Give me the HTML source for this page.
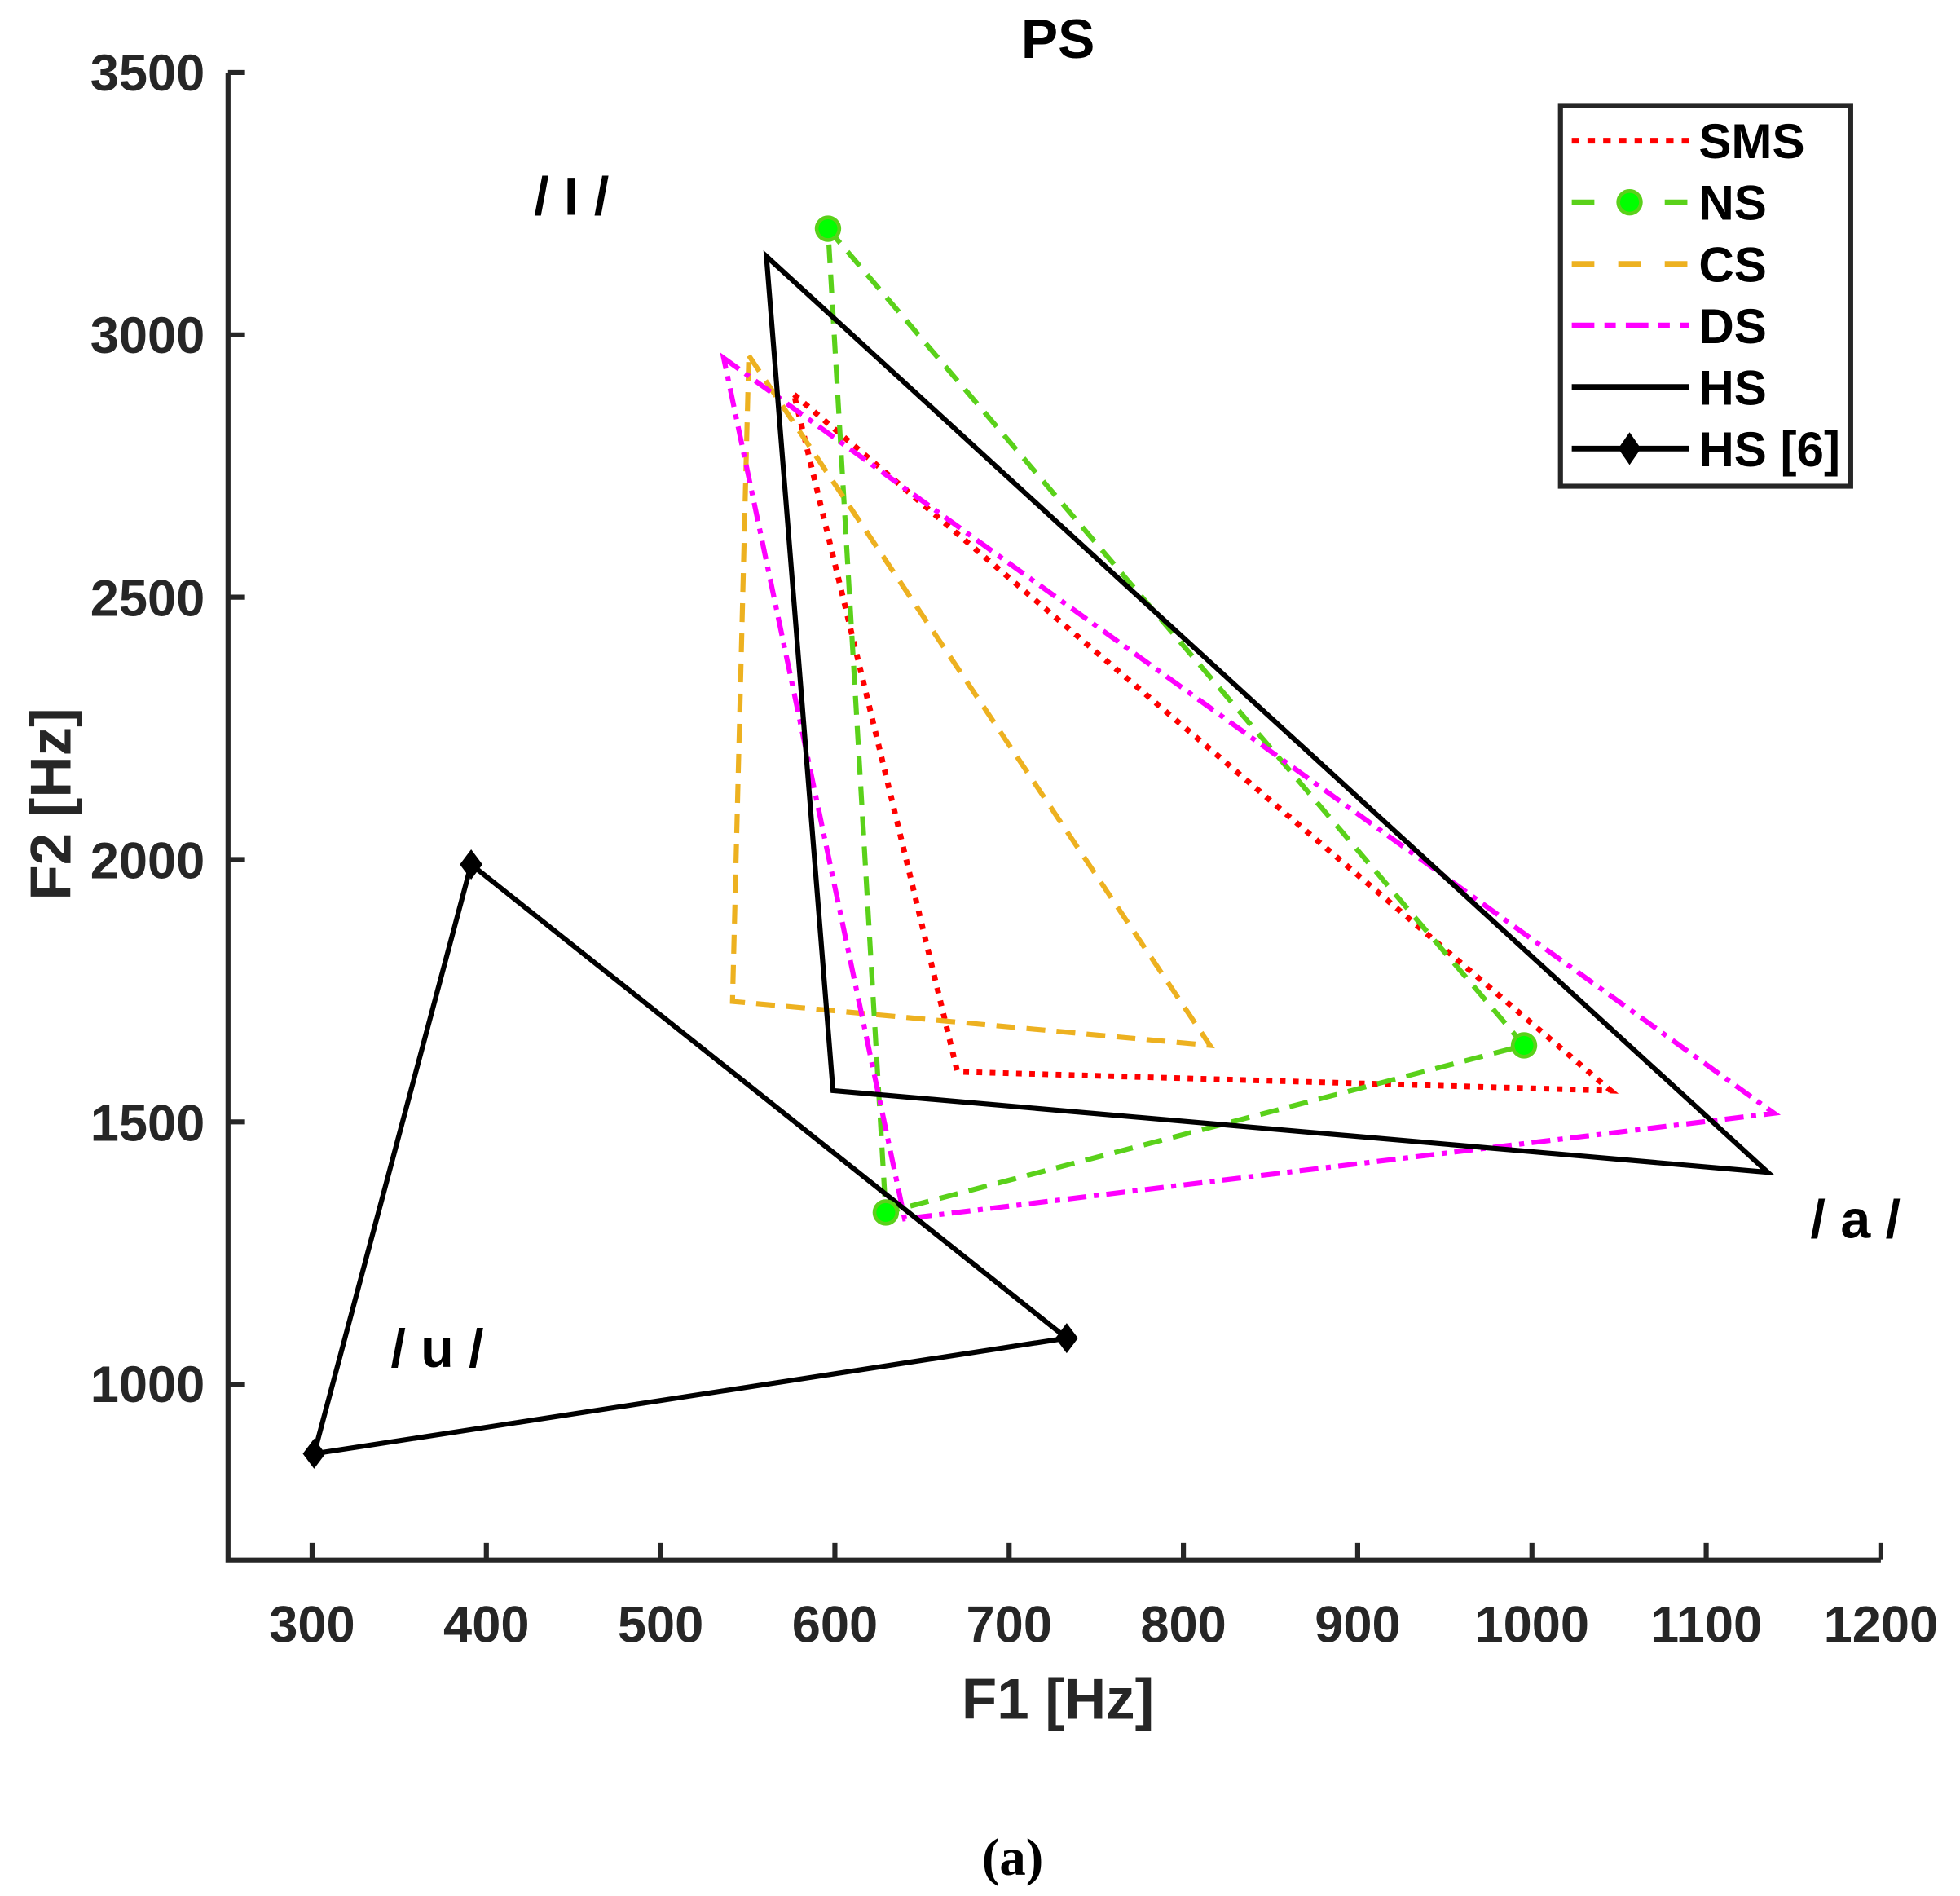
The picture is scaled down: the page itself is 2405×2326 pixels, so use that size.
<!DOCTYPE html>
<html><head><meta charset="utf-8"><style>html,body{margin:0;padding:0;background:#fff}svg{display:block}</style></head>
<body>
<svg width="2405" height="2326" viewBox="0 0 1560 1509" preserveAspectRatio="none" xmlns="http://www.w3.org/2000/svg" font-family="Liberation Sans, Arial, sans-serif" font-weight="bold">
<rect width="1560" height="1509" fill="#fff"/>
<g stroke="#262626" stroke-width="4" fill="none">
<polyline points="181.5,57.7 181.5,1241.5 1497,1241.5"/>
<line x1="181.5" y1="57.7" x2="195" y2="57.7"/>
<line x1="181.5" y1="266.5" x2="195" y2="266.5"/>
<line x1="181.5" y1="475.3" x2="195" y2="475.3"/>
<line x1="181.5" y1="684.1" x2="195" y2="684.1"/>
<line x1="181.5" y1="892.9" x2="195" y2="892.9"/>
<line x1="181.5" y1="1101.7" x2="195" y2="1101.7"/>
<line x1="248.4" y1="1241.5" x2="248.4" y2="1228"/>
<line x1="387.1" y1="1241.5" x2="387.1" y2="1228"/>
<line x1="525.8" y1="1241.5" x2="525.8" y2="1228"/>
<line x1="664.5" y1="1241.5" x2="664.5" y2="1228"/>
<line x1="803.2" y1="1241.5" x2="803.2" y2="1228"/>
<line x1="941.9" y1="1241.5" x2="941.9" y2="1228"/>
<line x1="1080.6" y1="1241.5" x2="1080.6" y2="1228"/>
<line x1="1219.3" y1="1241.5" x2="1219.3" y2="1228"/>
<line x1="1358" y1="1241.5" x2="1358" y2="1228"/>
<line x1="1497" y1="1241.5" x2="1497" y2="1228"/>
</g>
<g fill="#262626" font-size="41" text-anchor="end">
<text x="163" y="72">3500</text>
<text x="163" y="281">3000</text>
<text x="163" y="490">2500</text>
<text x="163" y="699">2000</text>
<text x="163" y="908">1500</text>
<text x="163" y="1116">1000</text>
</g>
<g fill="#262626" font-size="41" text-anchor="middle">
<text x="248.4" y="1307">300</text>
<text x="387.1" y="1307">400</text>
<text x="525.8" y="1307">500</text>
<text x="664.5" y="1307">600</text>
<text x="803.2" y="1307">700</text>
<text x="941.9" y="1307">800</text>
<text x="1080.6" y="1307">900</text>
<text x="1219.3" y="1307">1000</text>
<text x="1358" y="1307">1100</text>
<text x="1497" y="1307">1200</text>
<text x="842" y="1368" font-size="46">F1 [Hz]</text>
<text transform="translate(56,640) rotate(-90)" font-size="46">F2 [Hz]</text>
</g>
<text x="842" y="46" font-size="44" text-anchor="middle" fill="#000">PS</text>
<g fill="none" stroke-width="4.5" stroke-linejoin="miter">
<polygon points="632,314 1282,868 762,853" stroke="#ff0000" stroke-dasharray="4.5,6"/>
<polygon points="659,182 1213,832 705,965" stroke="#5ad11a" stroke-dasharray="15,9" stroke-width="4"/>
<polygon points="596,283 963,832 583,797" stroke="#edb120" stroke-dasharray="15,9" stroke-width="4"/>
<polygon points="576,285 1412,886 720,970" stroke="#ff00ff" stroke-dasharray="15,6,4,6" stroke-width="4"/>
<polygon points="610,204 1407,933 663,868" stroke="#000" stroke-width="4"/>
<polygon points="375,688 849,1065 250,1157" stroke="#000" stroke-width="4"/>
</g>
<g fill="#00ff00" stroke="#5ad11a" stroke-width="3">
<circle cx="659" cy="182" r="9"/><circle cx="1213" cy="832" r="9"/><circle cx="705" cy="965" r="9"/>
</g>
<g fill="#000">
<polygon points="375,676 384,688 375,700 366,688"/>
<polygon points="849,1053 858,1065 849,1077 840,1065"/>
<polygon points="250,1145 259,1157 250,1169 241,1157"/>
</g>
<g font-size="43" fill="#000">
<text x="425" y="171">/ I /</text>
<text x="1441" y="985">/ a /</text>
<text x="311" y="1088">/ u /</text>
</g>
<rect x="1242" y="84" width="231" height="303" fill="#fff" stroke="#262626" stroke-width="4"/>
<g stroke-width="4.5" fill="none">
<line x1="1251" y1="112" x2="1344" y2="112" stroke="#ff0000" stroke-dasharray="6,6.5"/>
<line x1="1251" y1="161" x2="1344" y2="161" stroke="#5ad11a" stroke-dasharray="18,19"/>
<line x1="1251" y1="210" x2="1344" y2="210" stroke="#edb120" stroke-dasharray="18,19"/>
<line x1="1251" y1="259" x2="1344" y2="259" stroke="#ff00ff" stroke-dasharray="18,8,9,8"/>
<line x1="1251" y1="308" x2="1344" y2="308" stroke="#000"/>
<line x1="1251" y1="357" x2="1344" y2="357" stroke="#000"/>
</g>
<circle cx="1297" cy="161" r="9" fill="#00ff00" stroke="#5ad11a" stroke-width="3"/>
<polygon points="1297,344 1306,357 1297,370 1288,357" fill="#000"/>
<g font-size="39" fill="#000">
<text x="1352" y="126">SMS</text>
<text x="1352" y="175">NS</text>
<text x="1352" y="224">CS</text>
<text x="1352" y="273">DS</text>
<text x="1352" y="322">HS</text>
<text x="1352" y="371">HS [6]</text>
</g>
<text x="806" y="1492" font-family="Liberation Serif, serif" font-weight="bold" font-size="42" text-anchor="middle" fill="#000">(a)</text>
</svg>
</body></html>
